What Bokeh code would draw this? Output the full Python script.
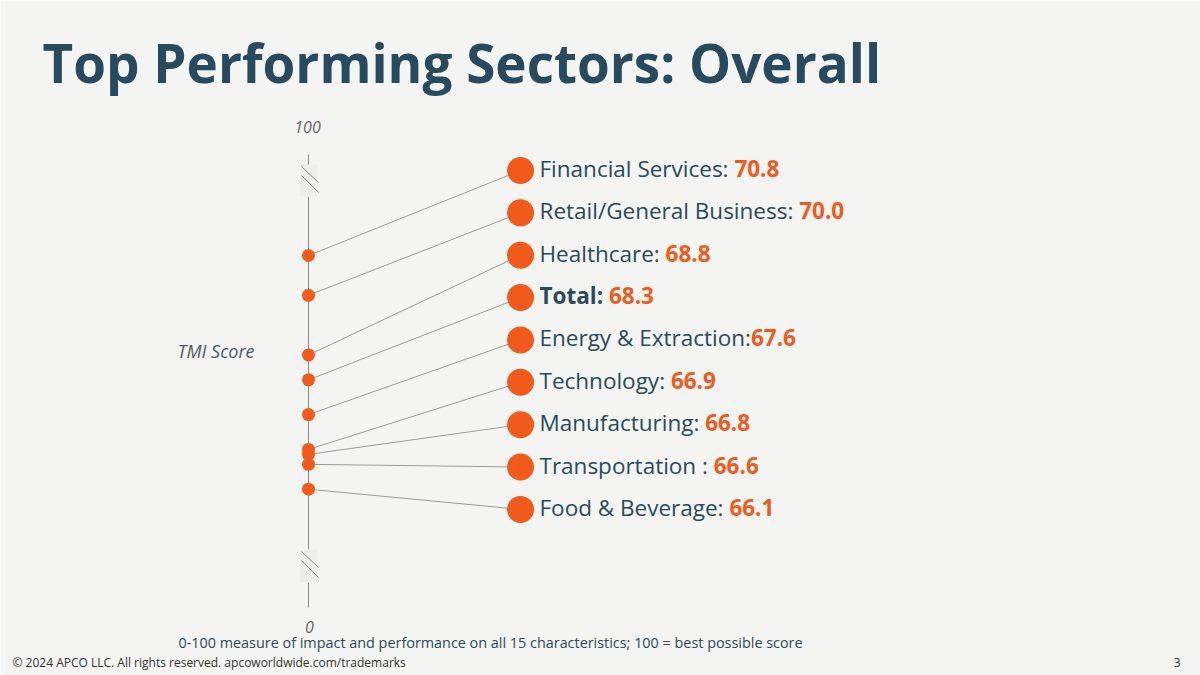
from bokeh.plotting import figure
from bokeh.models import Range1d, ColumnDataSource
from bokeh.core.properties import value
from bokeh.embed import file_html
from bokeh.resources import INLINE

# ---------------- data ----------------
sectors = ["Financial Services: ", "Retail/General Business: ", "Healthcare: ", "Total: ",
           "Energy & Extraction:", "Technology: ", "Manufacturing: ", "Transportation : ",
           "Food & Beverage: "]
scores = [70.8, 70.0, 68.8, 68.3, 67.6, 66.9, 66.8, 66.6, 66.1]
bold_rows = [False, False, False, True, False, False, False, False, False]
axis_tick_labels = ["100", "0"]

title_text = "Top Performing Sectors: Overall"
axis_title = "TMI Score"
footnote = "0-100 measure of impact and performance on all 15 characteristics; 100 = best possible score"
copyright_text = "\u00a9 2024 APCO LLC. All rights reserved. apcoworldwide.com/trademarks"
page_no = "3"

# ---------------- style ----------------
BG = "#f4f4f2"
NAVY = "#284a5e"
ORANGE = "#f25a1c"
GRAY = "#8a8a8a"
FONT = "Open Sans"

W, H = 1200, 675
SHIFT = 0.4  # empirical correction of text baseline (em)

# layout constants (value units for label rows)
LABEL_TOP = 72.51
LABEL_STEP = 0.852
AXIS_X = 308
DOT_X = 520
TEXT_X = 539
LABEL_SIZE = 22.5


def measure(text, size, bold=False):
    try:
        import subprocess
        from PIL import ImageFont
        pat = FONT + (":bold" if bold else ":regular")
        path = subprocess.run(["fc-match", "-f", "%{file}", pat],
                              capture_output=True, text=True).stdout.strip()
        f = ImageFont.truetype(path, size)
        w = f.getlength(text)
        if bold:
            try:
                f.set_variation_by_name("Bold")
                w = f.getlength(text)
            except Exception:
                if "Bold" not in path:
                    w *= 1.08
        return w
    except Exception:
        return len(text) * size * (0.6 if bold else 0.55)


def base(y, size):
    return y - SHIFT * size


p = figure(width=W, height=H, output_backend="svg", toolbar_location=None,
           x_range=Range1d(0, W), y_range=Range1d(62.353, 75.929),
           x_axis_type=None, y_axis_type=None, min_border=0,
           background_fill_color=BG, border_fill_color=BG, outline_line_color=None)
p.xgrid.visible = False
p.ygrid.visible = False
p.extra_y_ranges = {"px": Range1d(start=H, end=0)}

# axis line with breaks (page-pixel decoration range)
p.segment(x0=[AXIS_X] * 3, y0=[154, 196, 582], x1=[AXIS_X] * 3, y1=[165, 549, 607],
          line_color=GRAY, line_width=1, y_range_name="px")
p.quad(left=[300, 300], right=[317, 317], top=[164, 549], bottom=[196, 582],
       fill_color="#ededeb", line_color=None, y_range_name="px")
p.segment(x0=[301, 301, 301, 301], y0=[166, 175, 551, 560],
          x1=[318, 318, 318, 318], y1=[182, 192, 567, 577],
          line_color="#8a8a8a", line_width=1, y_range_name="px")

label_y = [LABEL_TOP - i * LABEL_STEP for i in range(len(scores))]

src = ColumnDataSource(dict(
    ax=[AXIS_X] * len(scores), score=scores,
    dx=[DOT_X] * len(scores), ly=label_y,
))

p.segment(x0="ax", y0="score", x1="dx", y1="ly", source=src,
          line_color="#9a9a9a", line_width=1)
p.scatter(x="ax", y="score", source=src, size=13, fill_color=ORANGE, line_color=None)
p.scatter(x="dx", y="ly", source=src, size=27, fill_color=ORANGE, line_color=None)

# labels: name + value
yoff = 7 - SHIFT * LABEL_SIZE
for i, (name, sc, b) in enumerate(zip(sectors, scores, bold_rows)):
    p.text(x=[TEXT_X], y=[label_y[i]], text=[name], text_font=value(FONT),
           text_font_size=f"{LABEL_SIZE}px", text_color=NAVY,
           text_font_style="bold" if b else "normal",
           text_baseline="alphabetic", y_offset=yoff)
    vx = TEXT_X + measure(name, LABEL_SIZE, b)
    p.text(x=[vx], y=[label_y[i]], text=[f"{sc:.1f}"], text_font=value(FONT),
           text_font_size=f"{LABEL_SIZE}px", text_color=ORANGE, text_font_style="bold",
           text_baseline="alphabetic", y_offset=yoff)

# axis end labels and axis title
p.text(x=[AXIS_X - 1, AXIS_X + 1], y=[base(133, 16), base(633, 16)], text=axis_tick_labels,
       text_font=value(FONT), text_font_size="16px", text_color="#666666",
       text_font_style="italic", text_align="center", text_baseline="alphabetic",
       y_range_name="px")
p.text(x=[177], y=[base(358, 18)], text=[axis_title], text_font=value(FONT),
       text_font_size="18px", text_color="#4a5a66", text_font_style="italic",
       text_baseline="alphabetic", y_range_name="px")

# title
p.text(x=[42], y=[base(83, 53)], text=[title_text], text_font=value(FONT),
       text_font_size="53px", text_color=NAVY, text_font_style="bold",
       text_baseline="alphabetic", y_range_name="px")

# footnotes
p.text(x=[490], y=[base(648, 14.4)], text=[footnote], text_font=value(FONT),
       text_font_size="14.4px", text_color=NAVY, text_align="center",
       text_baseline="alphabetic", y_range_name="px")
p.text(x=[12], y=[base(667, 12)], text=[copyright_text], text_font=value(FONT),
       text_font_size="12px", text_color="#333333", text_baseline="alphabetic",
       y_range_name="px")
p.text(x=[1180], y=[base(667, 12)], text=[page_no], text_font=value(FONT),
       text_font_size="12px", text_color="#333333", text_align="right",
       text_baseline="alphabetic", y_range_name="px")

open("out.html", "w").write(file_html(p, INLINE))
